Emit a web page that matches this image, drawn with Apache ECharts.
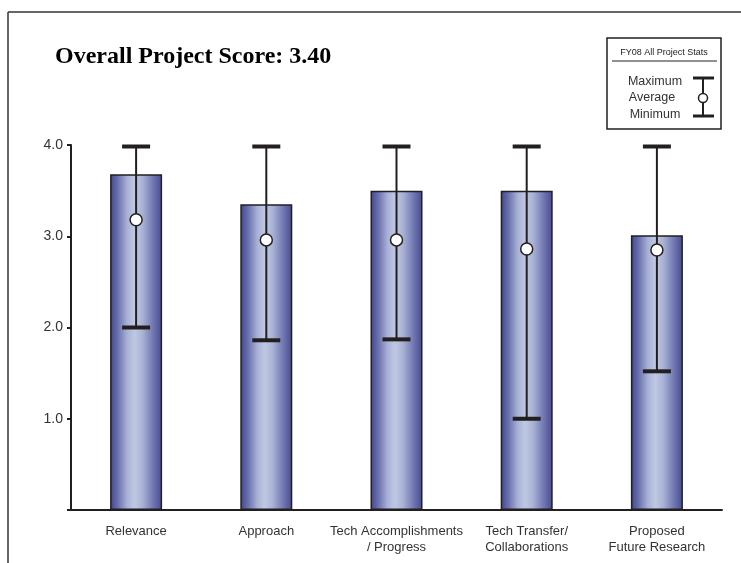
<!DOCTYPE html>
<html>
<head>
<meta charset="utf-8">
<script src="https://cdn.jsdelivr.net/npm/echarts@6/dist/echarts.min.js"></script>
<style>
html,body{margin:0;padding:0;background:#fff;}
#chart{width:741px;height:563px;}
</style>
</head>
<body>
<div id="chart"></div>
<script>
const categories = ["Relevance", "Approach", "Tech Accomplishments\n/ Progress", "Tech Transfer/\nCollaborations", "Proposed\nFuture Research"];
const projectScores = [3.68, 3.35, 3.50, 3.50, 3.01];
const averageScores = [3.18, 2.96, 2.96, 2.86, 2.85];
const maximumScores = [4.0, 4.0, 4.0, 4.0, 4.0];
const minimumScores = [2.0, 1.86, 1.87, 1.0, 1.52];
const yTicks = [1, 2, 3, 4];
const titleText = "Overall Project Score: 3.40";

const chart = echarts.init(document.getElementById('chart'));
const sans = "'Liberation Sans', Arial, sans-serif";
const ink = '#231f20';

const errData = categories.map((c, i) => [i, maximumScores[i], minimumScores[i]]);

chart.setOption({
  animation: false,
  backgroundColor: '#fff',
  grid: { left: 71, right: 19, top: 145, bottom: 53 },
  xAxis: {
    type: 'category',
    data: categories,
    axisLine: { show: true, lineStyle: { color: ink, width: 2 } },
    axisTick: { show: false },
    axisLabel: { color: '#333', fontFamily: sans, fontSize: 13, lineHeight: 16, margin: 13, interval: 0 }
  },
  yAxis: {
    type: 'value',
    min: 0, max: 4, interval: 1,
    axisLine: { show: true, lineStyle: { color: ink, width: 2 } },
    axisTick: { show: true, length: 4, lineStyle: { color: ink, width: 2 } },
    splitLine: { show: false },
    axisLabel: {
      color: '#333', fontFamily: sans, fontSize: 14, margin: 8,
      formatter: v => (yTicks.indexOf(v) >= 0 ? v.toFixed(1) : '')
    }
  },
  series: [
    {
      type: 'bar',
      data: projectScores,
      barWidth: 52,
      z: 2,
      itemStyle: {
        borderColor: ink,
        borderWidth: 1.5,
        color: new echarts.graphic.LinearGradient(0, 0, 1, 0, [
          { offset: 0, color: '#3d4490' },
          { offset: 0.15, color: '#6a71ad' },
          { offset: 0.33, color: '#a9b2d6' },
          { offset: 0.47, color: '#bfc8e2' },
          { offset: 0.62, color: '#aab3d6' },
          { offset: 0.85, color: '#6a71ad' },
          { offset: 1, color: '#454b94' }
        ])
      }
    },
    {
      type: 'custom',
      z: 3,
      data: errData,
      encode: { x: 0, y: [1, 2] },
      renderItem: function (params, api) {
        const hi = api.coord([api.value(0), api.value(1)]);
        const lo = api.coord([api.value(0), api.value(2)]);
        const hw = 14;
        return {
          type: 'group',
          children: [
            { type: 'line', shape: { x1: hi[0], y1: hi[1], x2: lo[0], y2: lo[1] }, style: { stroke: ink, lineWidth: 2 } },
            { type: 'line', shape: { x1: hi[0] - hw, y1: hi[1] + 1.5, x2: hi[0] + hw, y2: hi[1] + 1.5 }, style: { stroke: ink, lineWidth: 4 } },
            { type: 'line', shape: { x1: lo[0] - hw, y1: lo[1], x2: lo[0] + hw, y2: lo[1] }, style: { stroke: ink, lineWidth: 4 } }
          ]
        };
      }
    },
    {
      type: 'scatter',
      z: 4,
      data: averageScores,
      symbol: 'circle',
      symbolSize: 12,
      itemStyle: { color: '#fff', borderColor: ink, borderWidth: 1.5, opacity: 1 }
    }
  ],
  graphic: [
    { type: 'line', shape: { x1: 8, y1: 12, x2: 741, y2: 12 }, style: { stroke: '#333', lineWidth: 1.5 } },
    { type: 'line', shape: { x1: 8, y1: 12, x2: 8, y2: 563 }, style: { stroke: '#333', lineWidth: 1.5 } },
    { type: 'line', shape: { x1: 68, y1: 510, x2: 72, y2: 510 }, style: { stroke: ink, lineWidth: 2 } },
    { type: 'text', left: 55, top: 45, style: { text: titleText, font: "bold 24px 'Liberation Serif', 'Times New Roman', serif", fill: '#000' } },
    { type: 'rect', shape: { x: 607, y: 38, width: 114, height: 91 }, style: { fill: '#fff', stroke: ink, lineWidth: 1.5 } },
    { type: 'text', x: 664, y: 53, style: { text: 'FY08 All Project Stats', font: "9px " + sans, fill: '#222', align: 'center', verticalAlign: 'middle' } },
    { type: 'line', shape: { x1: 612, y1: 61, x2: 717, y2: 61 }, style: { stroke: ink, lineWidth: 1 } },
    { type: 'text', x: 655, y: 82, style: { text: 'Maximum', font: "12.5px " + sans, fill: '#333', align: 'center', verticalAlign: 'middle' } },
    { type: 'text', x: 652, y: 98, style: { text: 'Average', font: "12.5px " + sans, fill: '#333', align: 'center', verticalAlign: 'middle' } },
    { type: 'text', x: 655, y: 115, style: { text: 'Minimum', font: "12.5px " + sans, fill: '#333', align: 'center', verticalAlign: 'middle' } },
    { type: 'line', shape: { x1: 703, y1: 78, x2: 703, y2: 116 }, style: { stroke: ink, lineWidth: 2 } },
    { type: 'line', shape: { x1: 693, y1: 78, x2: 714, y2: 78 }, style: { stroke: ink, lineWidth: 3 } },
    { type: 'line', shape: { x1: 693, y1: 116, x2: 714, y2: 116 }, style: { stroke: ink, lineWidth: 3 } },
    { type: 'circle', shape: { cx: 703, cy: 98, r: 4.5 }, style: { fill: '#fff', stroke: ink, lineWidth: 1.5 } }
  ]
});
</script>
</body>
</html>
